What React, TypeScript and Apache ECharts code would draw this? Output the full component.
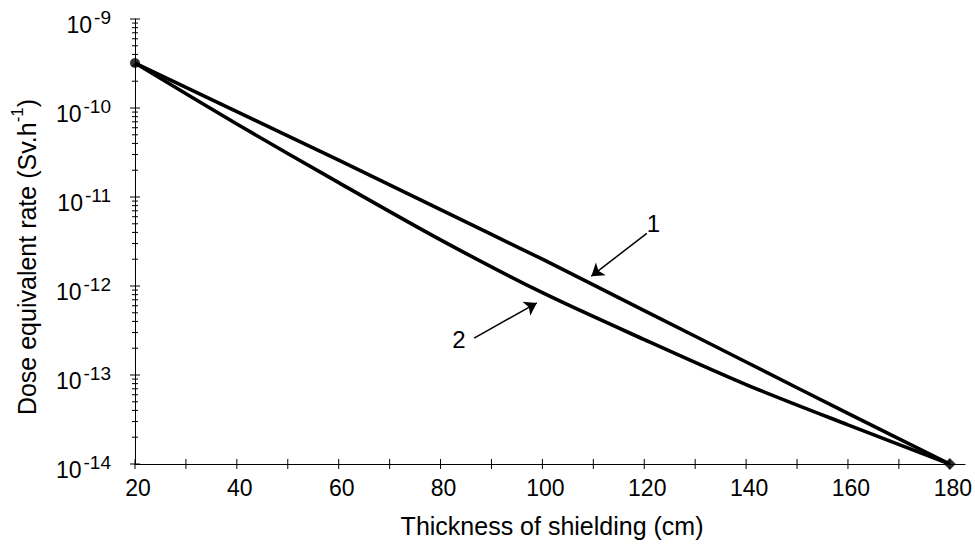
import React, { useEffect, useRef } from "react";
import * as echarts from "echarts";

const FONT = "'Liberation Sans', Arial, Helvetica, sans-serif";

// Thickness of shielding (cm)
const thickness = [20, 40, 60, 80, 100, 120, 140, 160, 180];
// Curve 1 – dose equivalent rate (Sv/h)
const curve1 = [3.2e-10, 9.1e-11, 2.6e-11, 7.2e-12, 2.0e-12, 5.3e-13, 1.4e-13, 3.7e-14, 1.0e-14];
// Curve 2 – dose equivalent rate (Sv/h)
const curve2 = [3.2e-10, 6.6e-11, 1.45e-11, 3.3e-12, 8.4e-13, 2.5e-13, 7.8e-14, 2.75e-14, 1.0e-14];

// axis ticks
const xTickValues = [20, 30, 40, 50, 60, 70, 80, 90, 100, 110, 120, 130, 140, 150, 160, 170, 180];
const xLabelValues = [20, 40, 60, 80, 100, 120, 140, 160, 180];
const decades = [-14, -13, -12, -11, -10];
const topDecade = -9;
const minorMultipliers = [1, 2, 3, 4, 5, 6, 7, 8, 9];

// annotation arrows (data coordinates) and their numbers
const arrowFrom = [
  [120.5, 3.9e-12],
  [86.6, 2.6e-13],
];
const arrowTo = [
  [109.6, 1.29e-12],
  [98.9, 6.45e-13],
];
const annotationLabels = ["1", "2"];
const annotationPos = [
  [121.8, 5.0e-12],
  [83.6, 2.5e-13],
];

const xTitle = "Thickness of shielding (cm)";

export default function App() {
  const ref = useRef<HTMLDivElement>(null);
  useEffect(() => {
    document.body.style.margin = "0";
    const chart = echarts.init(ref.current!, null, { renderer: "svg" });

    const yTickData: number[][] = [];
    decades.forEach((n) => {
      minorMultipliers.forEach((k) => {
        yTickData.push([20, k * Math.pow(10, n), k === 1 ? 5 : 3]);
      });
    });
    yTickData.push([20, Math.pow(10, topDecade), 5]);

    const xTickData = xTickValues.map((v) => [v, 1e-14, 5]);

    const option: any = {
      animation: false,
      backgroundColor: "#fff",
      textStyle: { fontFamily: FONT, color: "#000" },
      grid: { left: 135, right: 8, top: 19, bottom: 81, containLabel: false },
      xAxis: {
        type: "value",
        min: 20,
        max: 183,
        interval: 10,
        axisLine: { show: true, lineStyle: { color: "#000", width: 1 } },
        axisTick: { show: false },
        splitLine: { show: false },
        axisLabel: {
          formatter: (v: number) => (xLabelValues.indexOf(v) >= 0 ? String(v) : ""),
          fontSize: 23,
          color: "#000",
          fontFamily: FONT,
          margin: 12,
          padding: [0, 0, 0, 6],
        },
        name: xTitle,
        nameLocation: "middle",
        nameGap: 49,
        nameTextStyle: { fontSize: 25, color: "#000", fontFamily: FONT, padding: [0, 0, 0, 4] },
      },
      yAxis: {
        type: "log",
        logBase: 10,
        min: 1e-14,
        max: 1e-9,
        splitNumber: 5,
        axisLine: { show: true, lineStyle: { color: "#000", width: 1 } },
        axisTick: { show: false },
        splitLine: { show: false },
        axisLabel: {
          formatter: (v: number) => `{b|10}{s|${Math.round(Math.log10(v))}}`,
          margin: 24,
          fontSize: 23,
          color: "#000",
          fontFamily: FONT,
          padding: [6, 0, 0, 0],
          rich: {
            b: { fontSize: 23, color: "#000", fontFamily: FONT, padding: [6, 0, 0, 0] },
            s: { fontSize: 19, color: "#000", fontFamily: FONT, verticalAlign: "top", padding: [0, 0, 0, 2] },
          },
        },
      },
      graphic: [
        {
          type: "text",
          x: 24,
          y: 257,
          rotation: Math.PI / 2,
          style: {
            text: "{a|Dose equivalent rate (Sv.h}{s|-1}{a|)}",
            align: "center",
            verticalAlign: "middle",
            rich: {
              a: { fontSize: 25, fill: "#000", fontFamily: FONT, padding: [5, 0, 0, 0] },
              s: { fontSize: 17, fill: "#000", fontFamily: FONT, verticalAlign: "top" },
            },
          },
        },
      ],
      series: [
        {
          type: "custom",
          silent: true,
          clip: false,
          data: yTickData,
          encode: { x: 0, y: 1 },
          renderItem: (_p: any, api: any) => {
            const pt = api.coord([api.value(0), api.value(1)]);
            const len = api.value(2);
            return {
              type: "line",
              shape: { x1: pt[0] - len, y1: pt[1], x2: pt[0] + len, y2: pt[1] },
              style: { stroke: "#000", lineWidth: 1 },
            };
          },
        },
        {
          type: "custom",
          silent: true,
          clip: false,
          data: xTickData,
          encode: { x: 0, y: 1 },
          renderItem: (_p: any, api: any) => {
            const pt = api.coord([api.value(0), api.value(1)]);
            const len = api.value(2);
            return {
              type: "line",
              shape: { x1: pt[0], y1: pt[1] - len, x2: pt[0], y2: pt[1] + len },
              style: { stroke: "#000", lineWidth: 1 },
            };
          },
        },
        {
          type: "line",
          name: "1",
          silent: true,
          smooth: 0.3,
          symbol: "none",
          data: thickness.map((x, i) => [x, curve1[i]]),
          lineStyle: { color: "#000", width: 3.6 },
          z: 5,
          markLine: {
            silent: true,
            symbol: ["none", "arrow"],
            symbolSize: 12,
            label: { show: false },
            lineStyle: { color: "#000", width: 1.5, type: "solid" },
            data: arrowFrom.map((f, i) => [{ coord: f }, { coord: arrowTo[i] }]),
          },
          markPoint: {
            silent: true,
            symbol: "circle",
            symbolSize: 1,
            itemStyle: { color: "rgba(0,0,0,0)" },
            label: {
              show: true,
              position: "inside",
              fontSize: 24,
              color: "#000",
              fontFamily: FONT,
              formatter: (p: any) => p.name,
            },
            data: annotationPos.map((c, i) => ({ coord: c, name: annotationLabels[i] })),
          },
        },
        {
          type: "line",
          name: "2",
          silent: true,
          smooth: 0.3,
          symbol: "none",
          data: thickness.map((x, i) => [x, curve2[i]]),
          lineStyle: { color: "#000", width: 3.6 },
          z: 5,
        },
        {
          type: "scatter",
          silent: true,
          z: 6,
          itemStyle: { color: "#000" },
          data: [
            { value: [thickness[0], curve1[0]], symbol: "circle", symbolSize: 10 },
            {
              value: [thickness[thickness.length - 1], curve1[curve1.length - 1]],
              symbol: "diamond",
              symbolSize: 12,
            },
          ],
        },
      ],
    };

    chart.setOption(option);
    return () => chart.dispose();
  }, []);
  return <div ref={ref} style={{ width: 975, height: 545 }} />;
}
